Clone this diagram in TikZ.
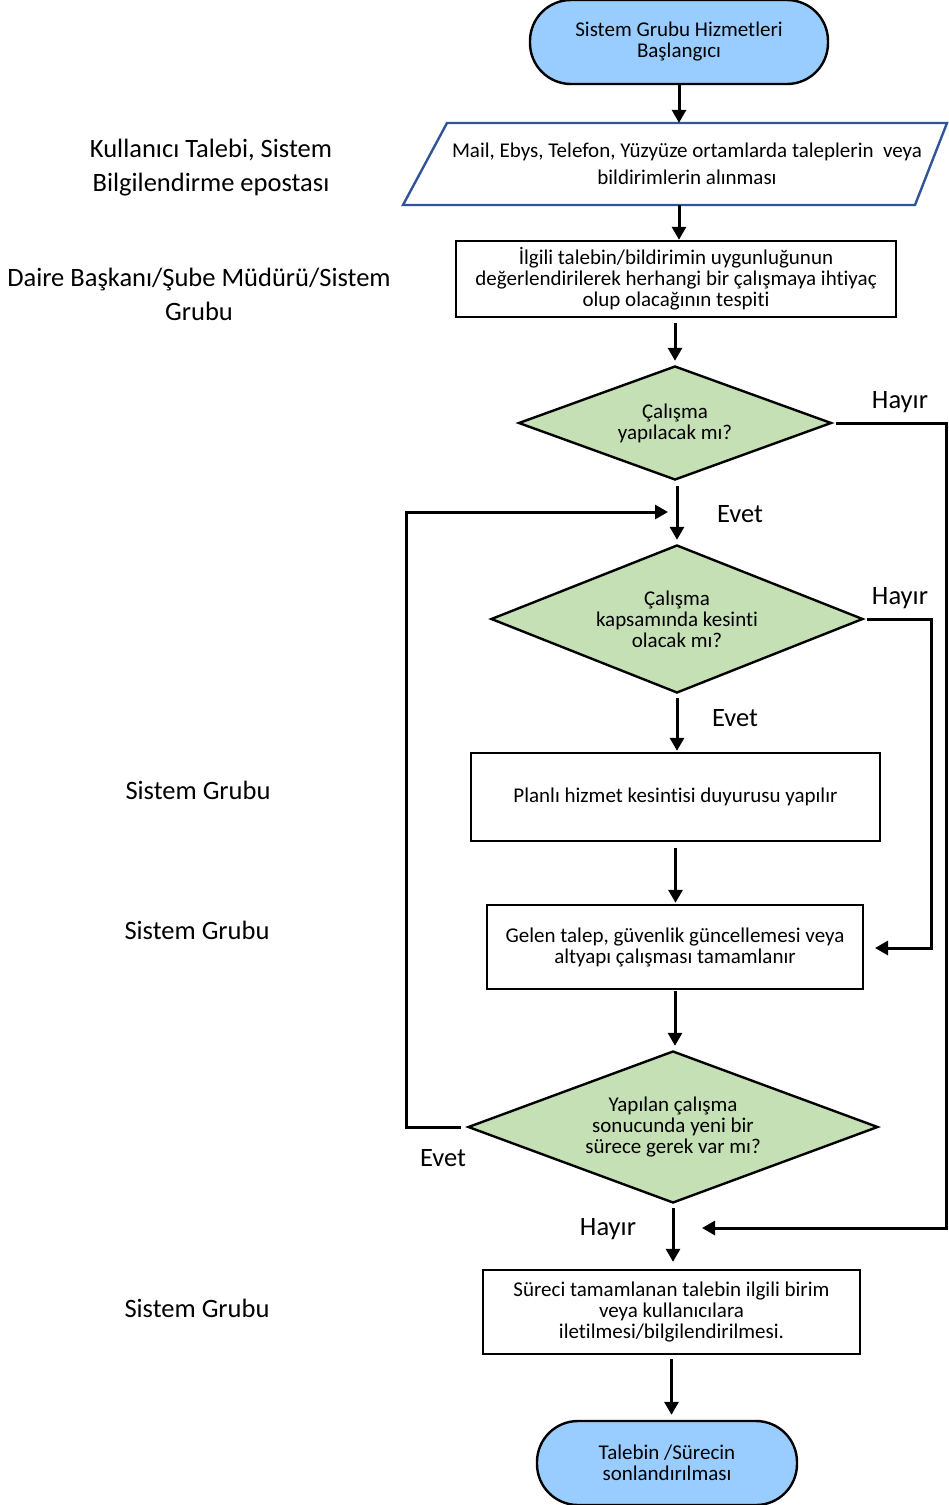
\documentclass[tikz,border=0pt]{standalone}
\usepackage{fontspec}
\setmainfont[Ligatures=NoCommon]{Carlito}
\usetikzlibrary{arrows.meta,shapes.geometric}
\definecolor{tblue}{HTML}{99CCFF}
\definecolor{dgreen}{HTML}{C5E0B4}
\definecolor{pblue}{HTML}{2F5597}
\begin{document}
\begin{tikzpicture}[x=1pt,y=-1pt,
  every node/.style={font=\fontsize{21}{21}\selectfont, align=center},
  term/.style={draw, line width=2.4pt, fill=tblue, rounded corners=41pt, minimum height=84pt, inner sep=0pt},
  box/.style={draw, line width=2.4pt, fill=white, inner sep=0pt},
  dec/.style={draw, line width=2.4pt, shape=diamond, fill=dgreen, inner sep=0pt},
  lab/.style={font=\fontsize{26.5}{34}\selectfont},
  arr/.style={line width=3pt, -{Triangle[length=13pt,width=14pt]}},
  ln/.style={line width=3pt}
]
\useasboundingbox (0,0) rectangle (949,1505);

% shapes
\node[term, minimum width=298pt] (start) at (679,42) {Sistem Grubu Hizmetleri\\Başlangıcı};
\draw[pblue, line width=2.4pt] (447,123) -- (947,123) -- (915,205) -- (403,205) -- cycle;
\node[inner sep=0pt, minimum height=82pt, font=\fontsize{21}{27}\selectfont] (para) at (687,164)
  {Mail, Ebys, Telefon, Yüzyüze ortamlarda taleplerin~ veya\\bildirimlerin alınması};
\node[box, minimum width=440pt, minimum height=76pt] (r3) at (676,279)
  {İlgili talebin/bildirimin uygunluğunun\\değerlendirilerek herhangi bir çalışmaya ihtiyaç\\olup olacağının tespiti};
\node[dec, minimum width=313pt, minimum height=114pt, aspect=2.75] (d1) at (675,423) {Çalışma\\yapılacak mı?};
\node[dec, minimum width=372pt, minimum height=148pt, aspect=2.5] (d2) at (677,619) {Çalışma\\kapsamında kesinti\\olacak mı?};
\node[box, minimum width=409pt, minimum height=88pt] (r6) at (675.5,797) {Planlı hizmet kesintisi duyurusu yapılır};
\node[box, minimum width=376pt, minimum height=84pt] (r7) at (675,947) {Gelen talep, güvenlik güncellemesi veya\\altyapı çalışması tamamlanır};
\node[dec, minimum width=410pt, minimum height=152pt, aspect=2.7] (d3) at (673,1127) {Yapılan çalışma\\sonucunda yeni bir\\sürece gerek var mı?};
\node[box, minimum width=377pt, minimum height=84pt] (r9) at (671.5,1312) {Süreci tamamlanan talebin ilgili birim\\veya kullanıcılara\\iletilmesi/bilgilendirilmesi.};
\node[term, minimum width=260pt] (end) at (667,1463) {Talebin /Sürecin\\sonlandırılması};

% side labels
\node[lab] (l1) at (211,168) {Kullanıcı Talebi, Sistem\\Bilgilendirme epostası};
\node[lab] (l2) at (199,294) {Daire Başkanı/Şube Müdürü/Sistem\\Grubu};
\node[lab] (l3) at (198,790) {Sistem Grubu};
\node[lab] (l4) at (197,930) {Sistem Grubu};
\node[lab] (l5) at (197,1308) {Sistem Grubu};

% helper coordinates
\coordinate (r1) at (946,1228);
\coordinate (e1) at (702,1228);
\coordinate (r2) at (931,948);
\coordinate (e2) at (875,948);
\coordinate (r3c) at (406,512);
\coordinate (e3) at (668,512);

% main flow
\draw[arr] (start.south) -- (start.south |- para.north);
\draw[arr] (start.south |- para.south) -- (start.south |- r3.north);
\draw[arr, shorten <=5pt, shorten >=4pt] (r3.south -| d1.north) -- (d1.north);
\draw[arr, shorten <=5pt, shorten >=4pt] (d1.south -| d2.north) -- (d2.north);
\draw[arr, shorten <=4pt, shorten >=1pt] (d2.south) -- (d2.south |- r6.north);
\draw[arr, shorten <=6pt, shorten >=1pt] (r6.south) -- (r6.south |- r7.north);
\draw[arr, shorten <=1pt, shorten >=4pt] (r7.south) -- (r7.south |- d3.north);
\draw[arr, shorten <=4pt, shorten >=7pt] (d3.south) -- (d3.south |- r9.north);
\draw[arr, shorten <=4pt, shorten >=5pt] (r9.south) -- (r9.south |- end.north);

% branches
\draw[arr, shorten <=3pt] (d1.east) -| (r1) -- (e1);
\draw[arr, shorten <=3pt] (d2.east) -| (r2) -- (e2);
\draw[arr, shorten <=6pt] (d3.west) -| (r3c) -- (e3);

% branch labels
\node[lab] (t1) at (900,402) {Hayır};
\node[lab] (t2) at (740,514) {Evet};
\node[lab] (t3) at (900,598) {Hayır};
\node[lab] (t4) at (735,718) {Evet};
\node[lab] (t5) at (443,1158) {Evet};
\node[lab] (t6) at (608,1229) {Hayır};
\end{tikzpicture}
\end{document}
